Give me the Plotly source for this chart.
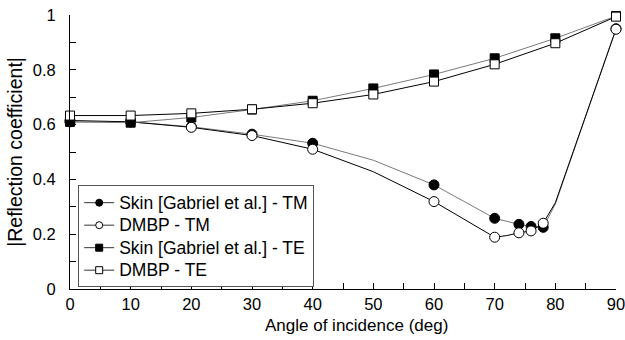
import plotly.graph_objects as go

# Angle of incidence (deg)
angles_tm = [0, 10, 20, 30, 40, 50, 60, 70, 72, 74, 76, 78, 80, 90]
skin_tm   = [0.61, 0.61, 0.592, 0.565, 0.532, 0.47, 0.38, 0.258, 0.247, 0.236, 0.228, 0.225, 0.31, 0.95]
dmbp_tm   = [0.615, 0.61, 0.59, 0.56, 0.51, 0.428, 0.319, 0.189, 0.195, 0.205, 0.212, 0.24, 0.315, 0.948]
tm_marker = [True, True, True, True, True, False, True, True, False, True, True, True, False, True]

angles_te = [0, 10, 20, 30, 40, 50, 60, 70, 80, 90]
skin_te   = [0.61, 0.607, 0.626, 0.655, 0.687, 0.732, 0.783, 0.842, 0.915, 0.996]
dmbp_te   = [0.633, 0.633, 0.641, 0.656, 0.678, 0.71, 0.757, 0.82, 0.897, 0.994]

names = ["Skin [Gabriel et al.] - TM", "DMBP - TM",
         "Skin [Gabriel et al.] - TE", "DMBP - TE"]

x_ticks = list(range(0, 95, 5))
x_labels = [str(v) if v % 10 == 0 else "" for v in x_ticks]
y_ticks = [i / 10 for i in range(0, 11)]
y_labels = ["0", "", "0.2", "", "0.4", "", "0.6", "", "0.8", "", "1"]

FONT = "Arial, Liberation Sans, sans-serif"
GRAY = "#7a7a7a"

def sizes(flags, s):
    return [s if f else 0 for f in flags]

fig = go.Figure()
# data traces (no legend)
fig.add_trace(go.Scatter(
    x=angles_tm, y=skin_tm, mode="lines+markers", showlegend=False,
    line=dict(color=GRAY, width=1),
    marker=dict(symbol="circle", size=sizes(tm_marker, 10), color="black",
                opacity=1, line=dict(color="black", width=1)),
    cliponaxis=False))
fig.add_trace(go.Scatter(
    x=angles_tm, y=dmbp_tm, mode="lines+markers", showlegend=False,
    line=dict(color="black", width=1),
    marker=dict(symbol="circle", size=sizes(tm_marker, 10), color="white",
                opacity=1, line=dict(color="black", width=1)),
    cliponaxis=False))
fig.add_trace(go.Scatter(
    x=angles_te, y=skin_te, mode="lines+markers", showlegend=False,
    line=dict(color=GRAY, width=1),
    marker=dict(symbol="square", size=9, color="black",
                line=dict(color="black", width=1)),
    cliponaxis=False))
fig.add_trace(go.Scatter(
    x=angles_te, y=dmbp_te, mode="lines+markers", showlegend=False,
    line=dict(color="black", width=1),
    marker=dict(symbol="square", size=9, color="white",
                line=dict(color="black", width=1)),
    cliponaxis=False))

# legend entries
legend_specs = [("circle", "black"), ("circle", "white"),
                ("square", "black"), ("square", "white")]
for name, (sym, fill) in zip(names, legend_specs):
    fig.add_trace(go.Scatter(
        x=[None], y=[None],
        name='<span style="font-size:17.5px">' + name + '</span>',
        mode="lines+markers",
        line=dict(color="#333333", width=1),
        marker=dict(symbol=sym, size=7, color=fill,
                    line=dict(color="black", width=1))))

fig.add_annotation(
    text="Angle of incidence (deg)", xref="paper", yref="paper",
    x=0.5256, y=-0.135, xanchor="center", yanchor="middle",
    showarrow=False, font=dict(family=FONT, size=17, color="black"))

fig.update_layout(
    width=625, height=340,
    margin=dict(l=70, r=9, t=15, b=51, autoexpand=False),
    paper_bgcolor="white", plot_bgcolor="white",
    font=dict(family=FONT, size=16.5, color="black"),
    showlegend=True,
    legend=dict(x=0.015, y=0.378, xanchor="left", yanchor="top",
                bordercolor="#555555", borderwidth=1, bgcolor="white",
                font=dict(family=FONT, size=15, color="black"),
                tracegroupgap=0, itemwidth=30),
    xaxis=dict(range=[0, 90], tickvals=x_ticks, ticktext=x_labels,
               ticks="inside", ticklen=6, tickcolor="black",
               showline=True, linecolor="black", linewidth=1,
               showgrid=False, zeroline=False, mirror=False,
               ticklabeloverflow="allow", automargin=False,
               tickfont=dict(family=FONT, size=16.5)),
    yaxis=dict(range=[0, 1], tickvals=y_ticks, ticktext=y_labels,
               ticks="inside", ticklen=6, tickcolor="black",
               showline=True, linecolor="black", linewidth=1,
               showgrid=False, zeroline=False, mirror=False,
               ticklabelstandoff=10, automargin=False,
               title=dict(text="|Reflection coefficient|",
                          font=dict(family=FONT, size=19.5), standoff=4),
               tickfont=dict(family=FONT, size=16.5)),
)

fig.write_html("out.html")
